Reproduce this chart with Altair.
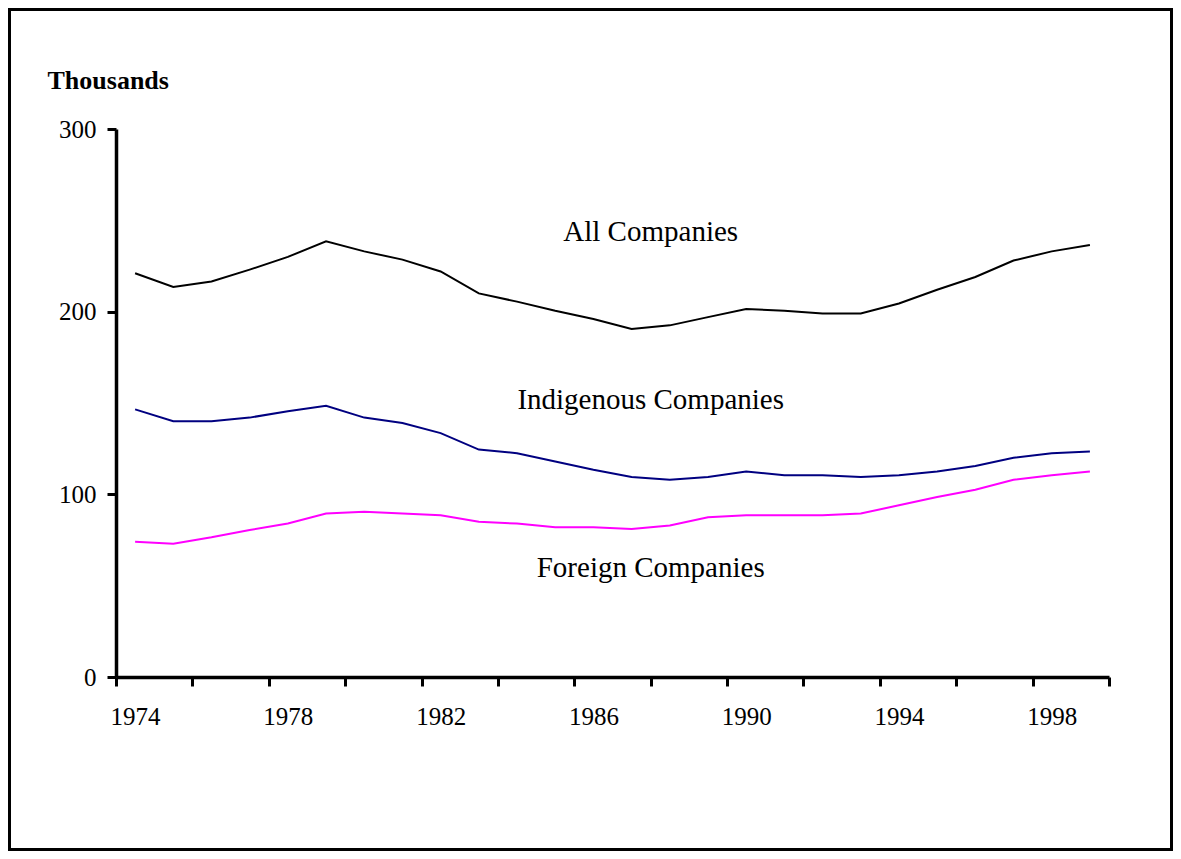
import altair as alt
import pandas as pd

# ---- data (thousands) ----
years = list(range(1974, 2000))
all_companies = [221, 213.5, 216.5, 223, 230, 238.5, 233, 228.5, 222, 210,
                 205.5, 200.5, 196, 190.5, 192.5, 197, 201.5, 200.5, 199, 199,
                 204.5, 212, 219, 228, 233, 236.5]
indigenous = [146.5, 140, 140, 142, 145.5, 148.5, 142, 139, 133.5, 124.5,
              122.5, 118, 113.5, 109.5, 108, 109.5, 112.5, 110.5, 110.5, 109.5,
              110.5, 112.5, 115.5, 120, 122.5, 123.5]
foreign = [74, 73, 76.5, 80.5, 84, 89.5, 90.5, 89.5, 88.5, 85,
           84, 82, 82, 81, 83, 87.5, 88.5, 88.5, 88.5, 89.5,
           94, 98.5, 102.5, 108, 110.5, 112.5]

series_names = ["All Companies", "Indigenous Companies", "Foreign Companies"]
series_colors = ["#000000", "#000080", "#FF00FF"]

# annotation labels (name, anchor year, anchor value)
label_names = ["All Companies", "Indigenous Companies", "Foreign Companies"]
label_years = [1987.5, 1987.5, 1987.5]
label_values = [238.8, 146.7, 54.9]

y_ticks = [0, 100, 200, 300]
x_tick_bounds = [1973.5 + i for i in range(27)]

rows = []
for name, vals in zip(series_names, [all_companies, indigenous, foreign]):
    for yr, v in zip(years, vals):
        rows.append({"year": yr, "value": v, "series": name})
df = pd.DataFrame(rows)
labels_df = pd.DataFrame({"year": label_years, "value": label_values, "text": label_names})

FONT = "Liberation Serif"
W, H = 993, 548

x_scale = alt.Scale(domain=[1973.5, 1999.5], nice=False, zero=False)
y_scale = alt.Scale(domain=[0, 300], nice=False)

x_axis = alt.Axis(
    values=x_tick_bounds,
    labelExpr="(datum.value - 1973.5) % 4 == 0 ? toString(datum.value + 0.5) : ''",
    labelOffset=19.1,
    labelFlush=False,
    labelOverlap=False,
    labelPadding=18,
    grid=False,
    title=None,
)
y_axis = alt.Axis(
    values=y_ticks,
    labelFlush=False,
    labelOverlap=False,
    labelPadding=11,
    grid=False,
    title="Thousands",
    titleAngle=0,
    titleX=-69,
    titleY=-49,
    titleAlign="left",
    titleBaseline="middle",
    titleFont=FONT,
    titleFontSize=26,
    titleFontWeight="bold",
    titleColor="black",
)

lines = alt.Chart(df).mark_line(strokeWidth=2).encode(
    x=alt.X("year:Q", scale=x_scale, axis=x_axis),
    y=alt.Y("value:Q", scale=y_scale, axis=y_axis),
    color=alt.Color("series:N", scale=alt.Scale(domain=series_names, range=series_colors), legend=None),
    detail="series:N",
)

texts = alt.Chart(labels_df).mark_text(
    font=FONT, fontSize=29, color="black", align="center", baseline="alphabetic"
).encode(
    x=alt.X("year:Q", scale=x_scale),
    y=alt.Y("value:Q", scale=y_scale),
    text="text:N",
)

frame = alt.Chart(alt.Data(values=[{"a": 1}])).mark_rect(
    fill=None, stroke="black", strokeWidth=3
).encode(
    x=alt.value(-106.5), x2=alt.value(W + 62.5),
    y=alt.value(-119.5), y2=alt.value(H + 172.5),
)

chart = alt.layer(lines, texts, frame).properties(
    width=W, height=H,
    autosize=alt.AutoSizeParams(type="none"),
    padding={"left": 108, "top": 121, "right": 64, "bottom": 174},
    background="white",
).configure_view(stroke=None).configure_axis(
    labelFont=FONT, labelFontSize=25, labelColor="black",
    domainColor="black", domainWidth=3.5,
    tickColor="black", tickWidth=3, tickSize=9,
)

chart.save("out.html", embed_options={"renderer": "svg", "actions": False})
